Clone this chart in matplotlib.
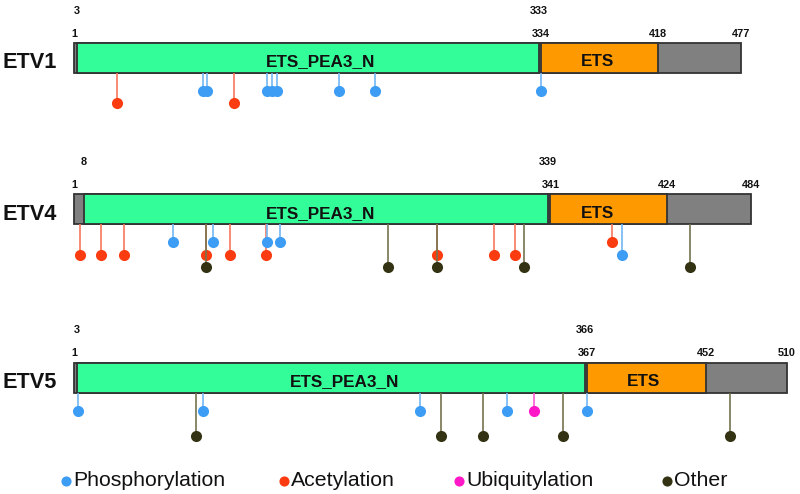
import matplotlib
matplotlib.use("Agg")
import matplotlib.pyplot as plt
from matplotlib.patches import Rectangle

# ---------------- data ----------------
proteins = ["ETV1", "ETV4", "ETV5"]
lengths = [477, 484, 510]
pea3_domain = [(3, 333), (8, 339), (3, 366)]
ets_domain = [(334, 418), (341, 424), (367, 452)]
upper_labels = [[3, 333], [8, 339], [3, 366]]
lower_labels = [[1, 334, 418, 477], [1, 341, 424, 484], [1, 367, 452, 510]]

# sites: (residue, modification, stem level)
etv1_sites = [(93, "P", 1), (96, "P", 1), (139, "P", 1), (142, "P", 1), (146, "P", 1),
              (190, "P", 1), (216, "P", 1), (334, "P", 1),
              (32, "A", 2), (115, "A", 2)]
etv4_sites = [(72, "P", 1), (100, "P", 1), (139, "P", 1), (148, "P", 1), (392, "P", 2),
              (5, "A", 2), (20, "A", 2), (37, "A", 2), (95, "A", 2), (112, "A", 2),
              (138, "A", 2), (260, "A", 2), (301, "A", 2), (316, "A", 2), (385, "A", 1),
              (95, "O", 3), (225, "O", 3), (260, "O", 3), (322, "O", 3), (441, "O", 3)]
etv5_sites = [(4, "P", 1), (93, "P", 1), (248, "P", 1), (310, "P", 1), (367, "P", 1),
              (329, "U", 1),
              (88, "O", 3), (263, "O", 3), (293, "O", 3), (350, "O", 3), (469, "O", 3)]
all_sites = [etv1_sites, etv4_sites, etv5_sites]

mod_names = {"P": "Phosphorylation", "A": "Acetylation", "U": "Ubiquitylation", "O": "Other"}
legend_order = ["P", "A", "U", "O"]

# ---------------- style ----------------
mark_col = {"P": "#3d9df5", "A": "#fa3c10", "U": "#ff18c8", "O": "#333314"}
stem_col = {"P": "#72b6f2", "A": "#f7775c", "U": "#ff5ad6", "O": "#74744e"}
green, orange, grey, edge = "#33fd98", "#ff9900", "#808080", "#333333"

PX0, SCALE = 74.0, 1.401   # pixel x of residue 1, pixels per residue
def px2pos(px):
    return (px - PX0) / SCALE + 1

bar_top = [43.0, 194.3, 362.7]
bar_h = 30.0
level_off = {1: 18.0, 2: 30.5, 3: 43.0}
pea3_label_px = [321, 321, 345]
ets_label_px = [597, 597, 643]

font = "Liberation Sans"

fig = plt.figure(figsize=(8, 4.94), dpi=100)
ax = fig.add_axes([0, 0, 1, 1])
ax.set_xlim(px2pos(0), px2pos(800))
ax.set_ylim(494, 0)
ax.axis("off")

for i, name in enumerate(proteins):
    top = bar_top[i]
    bot = top + bar_h
    L = lengths[i]
    ax.add_patch(Rectangle((1, top), L - 1, bar_h, facecolor=grey, edgecolor=edge, lw=1.3, zorder=2))
    s, e = pea3_domain[i]
    ax.add_patch(Rectangle((s, top), e - s, bar_h, facecolor=green, edgecolor=edge, lw=1.3, zorder=3))
    s, e = ets_domain[i]
    ax.add_patch(Rectangle((s, top), e - s, bar_h, facecolor=orange, edgecolor=edge, lw=1.3, zorder=3))

    ax.text(px2pos(3), top + 25.3, name, fontsize=15.7, fontweight="bold", family=font,
            ha="left", va="baseline", color="#111111")
    ax.text(px2pos(pea3_label_px[i]), top + 23.5, "ETS_PEA3_N", fontsize=12.3, fontweight="bold",
            family=font, ha="center", va="baseline", color="#111111", zorder=5)
    ax.text(px2pos(ets_label_px[i]), top + 23.5, "ETS", fontsize=12.3, fontweight="bold",
            family=font, ha="center", va="baseline", color="#111111", zorder=5)

    for v in upper_labels[i]:
        ax.text(v, top - 29.5, str(v), fontsize=7.8, fontweight="bold", family=font,
                ha="center", va="baseline", color="#111111")
    for v in lower_labels[i]:
        ax.text(v, top - 6.4, str(v), fontsize=7.8, fontweight="bold", family=font,
                ha="center", va="baseline", color="#111111")

    order = {"A": 0, "P": 1, "U": 1, "O": 2}
    for pos, kind, lvl in sorted(all_sites[i], key=lambda t: order[t[1]]):
        y = bot + level_off[lvl]
        z = 4 + order[kind]
        ax.plot([pos, pos], [bot, y], color=stem_col[kind], lw=1.2, zorder=z, solid_capstyle="butt")
        ax.plot([pos], [y], "o", ms=8, color=mark_col[kind], mec="none", zorder=z + 0.5)

# legend
leg_marker_px = [66, 284, 459, 667]
for k, mpx in zip(legend_order, leg_marker_px):
    ax.plot([px2pos(mpx)], [480.5], "o", ms=7.3, color=mark_col[k], mec="none")
    ax.text(px2pos(mpx + 7), 486, mod_names[k], fontsize=15.3, family=font,
            ha="left", va="baseline", color="#111111")

fig.savefig("out.png", dpi=100)
